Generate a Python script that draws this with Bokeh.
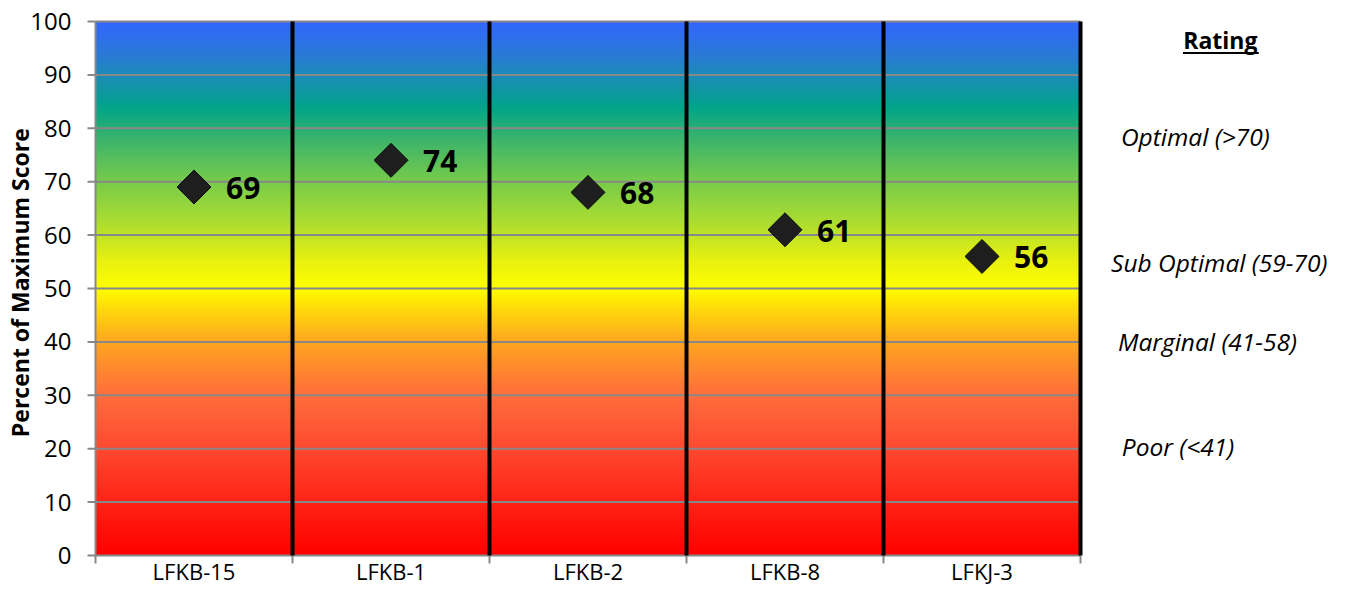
import numpy as np
from bokeh.plotting import figure
from bokeh.models import Range1d, ColumnDataSource
from bokeh.core.properties import value
from bokeh.embed import file_html
from bokeh.resources import INLINE

# ---- data ----
sites = ["LFKB-15", "LFKB-1", "LFKB-2", "LFKB-8", "LFKJ-3"]
scores = [69, 74, 68, 61, 56]
y_ticks = [0, 10, 20, 30, 40, 50, 60, 70, 80, 90, 100]
y_title = "Percent of Maximum Score"
rating_title = "Rating"
rating_labels = ["Optimal (>70)", "Sub Optimal (59-70)", "Marginal (41-58)", "Poor (<41)"]

# ---- styles ----
FONT = "Open Sans"
GRID = "#888888"
grad_stops = [
    (0, "#ff0000"), (10, "#ff2416"), (20, "#ff4a30"), (30, "#ff6e3c"),
    (40, "#ffa622"), (47, "#ffe208"), (50, "#ffff00"), (55, "#eaf20e"),
    (62, "#b0de30"), (70, "#78cc4a"), (78, "#3cb46c"), (84, "#00a58a"),
    (89, "#1990b0"), (94, "#2a7ad8"), (100, "#3366ff"),
]

def hex2rgb(h):
    return [int(h[i:i + 2], 16) for i in (1, 3, 5)]

n_rows = 600
vals = np.linspace(0, 100, n_rows)
sv = [s[0] for s in grad_stops]
rgb = np.array([hex2rgb(s[1]) for s in grad_stops], dtype=float)
img = np.empty((n_rows, 1), dtype=np.uint32)
view = img.view(dtype=np.uint8).reshape((n_rows, 1, 4))
for c in range(3):
    view[:, 0, c] = np.interp(vals, sv, rgb[:, c]).astype(np.uint8)
view[:, 0, 3] = 255

n = len(sites)
W, H = 1329, 585
PX_X = 197.0      # pixels per category
PX_Y = 5.34       # pixels per percent
LEFT = 95         # plot-area left edge inside the canvas
TOP = 21          # plot-area top edge inside the canvas
x_start = -0.5 - LEFT / PX_X
y_end = 100 + TOP / PX_Y

p = figure(width=W, height=H,
           x_range=Range1d(x_start, x_start + W / PX_X),
           y_range=Range1d(y_end - H / PX_Y, y_end),
           output_backend="svg", toolbar_location=None,
           x_axis_location=None, y_axis_location=None, min_border=0)
p.outline_line_color = None
p.background_fill_color = "white"
p.xgrid.visible = False
p.ygrid.visible = False

# gradient background
p.image_rgba(image=[img], x=-0.5, y=0, dw=n, dh=100, level="image")

# horizontal grid lines
p.segment(x0=[-0.5] * len(y_ticks), y0=y_ticks, x1=[n - 0.5] * len(y_ticks), y1=y_ticks,
          line_color=GRID, line_width=2)

# y axis: line, ticks, labels, title
p.segment(x0=[-0.5], y0=[0], x1=[-0.5], y1=[100], line_color=GRID, line_width=2)
tx = 8 / PX_X
p.segment(x0=[-0.5] * len(y_ticks), y0=y_ticks, x1=[-0.5 - tx] * len(y_ticks), y1=y_ticks,
          line_color=GRID, line_width=2)
p.text(x=[-0.5 - 24 / PX_X] * len(y_ticks), y=y_ticks, text=[str(t) for t in y_ticks],
       text_align="right", text_baseline="middle",
       text_font=value(FONT), text_font_size="24px", text_color="black")
p.text(x=[-0.5 - 76 / PX_X], y=[51.1], text=[y_title], angle=np.pi / 2,
       text_align="center", text_baseline="middle",
       text_font=value(FONT), text_font_style="bold", text_font_size="23px", text_color="black")

# x axis: ticks at category boundaries, labels at category centres
idx = list(range(n))
bounds = [i - 0.5 for i in range(n + 1)]
ty = 8 / PX_Y
p.segment(x0=bounds, y0=[0] * len(bounds), x1=bounds, y1=[-ty] * len(bounds),
          line_color=GRID, line_width=2)
p.text(x=idx, y=[-15.5 / PX_Y] * n, text=sites, text_align="center", text_baseline="middle",
       text_font=value(FONT), text_font_size="22px", text_color="black")

# vertical separators
sep = bounds[1:]
p.segment(x0=sep, y0=[0] * len(sep), x1=sep, y1=[100] * len(sep),
          line_color="black", line_width=4)

# markers and labels
src = ColumnDataSource(dict(x=idx, y=scores, t=[str(s) for s in scores]))
p.scatter("x", "y", source=src, marker="square", angle=np.pi / 4, size=24,
          fill_color="#1e1e1e", line_color="#0a0a0a", line_width=1)
p.text("x", "y", text="t", source=src, x_offset=32, y_offset=1, text_baseline="middle",
       text_font=value(FONT), text_font_style="bold", text_font_size="30px",
       text_color="black")

# rating legend on the right
p.text(x=[5.21], y=[96.6], text=[rating_title], text_align="center", text_baseline="middle",
       text_font=value(FONT), text_font_style="bold", text_font_size="23px", text_color="black")
p.segment(x0=[5.02], y0=[94.1], x1=[5.405], y1=[94.1], line_color="black", line_width=2)
rating_x = [4.705, 4.655, 4.69, 4.71]
rating_y = [78.5, 54.9, 40.1, 20.4]
p.text(x=rating_x, y=rating_y, text=rating_labels, text_align="left", text_baseline="middle",
       text_font=value(FONT), text_font_style="italic", text_font_size="24.5px",
       text_color="black")

open("out.html", "w").write(file_html(p, INLINE))
